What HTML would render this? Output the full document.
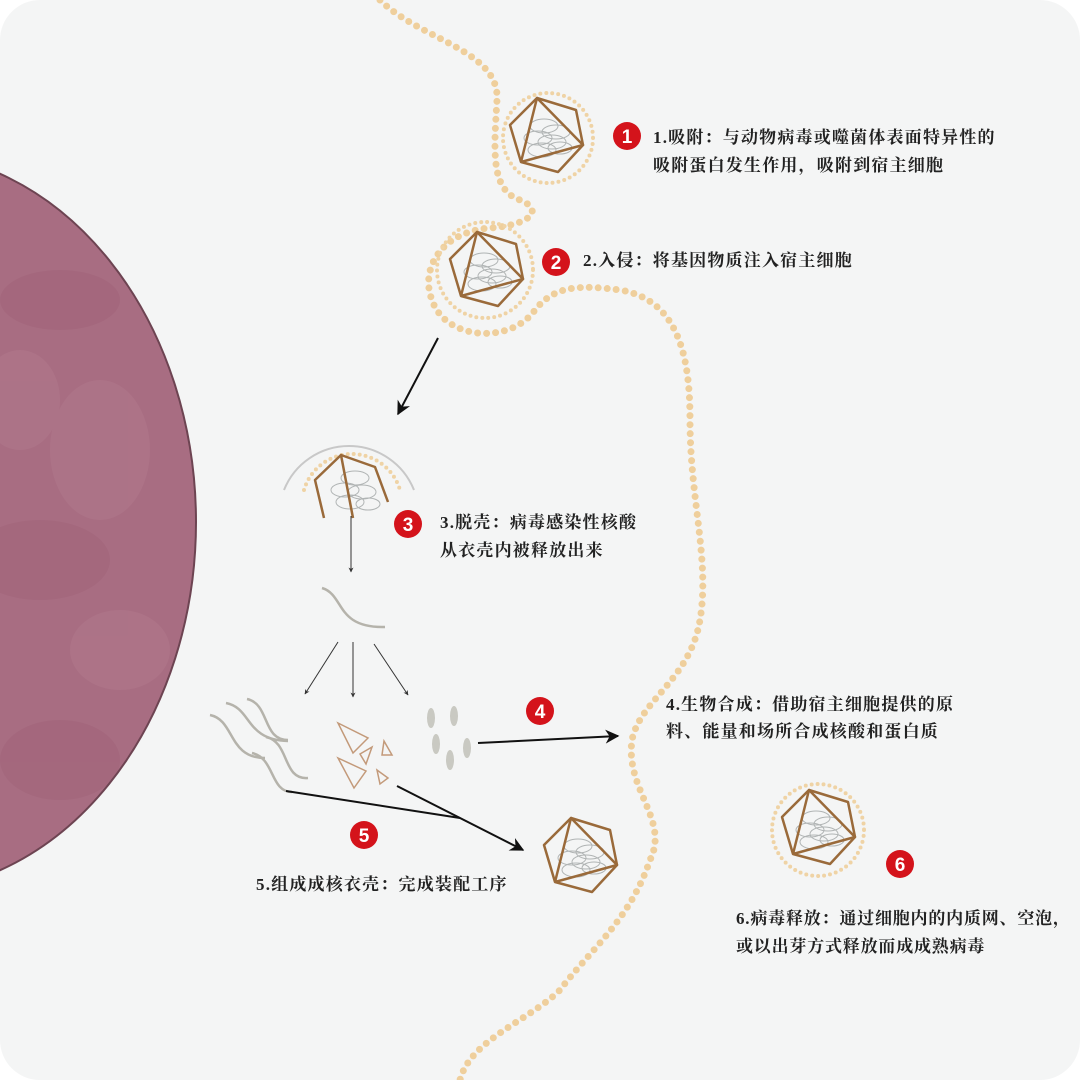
<!DOCTYPE html>
<html><head><meta charset="utf-8"><style>
html,body{margin:0;padding:0;background:#fff;}
svg{display:block;}
text{font-family:"Liberation Serif","Noto Serif CJK SC",serif;font-weight:bold;fill:#222;font-size:17px;letter-spacing:1.2px;}
.t6{letter-spacing:0.8px;}
.n{font-family:"Liberation Sans",sans-serif;fill:#fff;font-size:19px;font-weight:bold;text-anchor:middle;letter-spacing:0;}
</style></head><body>
<svg width="1080" height="1080" viewBox="0 0 1080 1080" xmlns="http://www.w3.org/2000/svg">
<defs>
<clipPath id="pg"><rect x="0" y="0" width="1080" height="1080" rx="40"/></clipPath>
<clipPath id="cell"><ellipse cx="-100" cy="522" rx="296" ry="370"/></clipPath>
<g id="vir">
 <g fill="none" stroke="#b0b4b4" stroke-width="1">
  <ellipse cx="-4" cy="-12" rx="14" ry="7"/><ellipse cx="8" cy="-6" rx="14" ry="7"/>
  <ellipse cx="-10" cy="0" rx="14" ry="7"/><ellipse cx="4" cy="4" rx="14" ry="7"/>
  <ellipse cx="-6" cy="12" rx="14" ry="7"/><ellipse cx="12" cy="10" rx="12" ry="6"/>
 </g>
 <polygon points="-11,-40 28,-28 35,7 10,34 -27,24 -38,-13" fill="none" stroke="#9a6a3a" stroke-width="2.5" stroke-linejoin="round"/>
 <polyline points="-27,24 -11,-40 35,7 -27,24" fill="none" stroke="#9a6a3a" stroke-width="2.5" stroke-linejoin="round"/>
</g>
<marker id="ah" viewBox="0 0 10 10" refX="9" refY="5" markerWidth="7" markerHeight="7" orient="auto"><path d="M0,0L10,5L0,10L3,5z" fill="#111"/></marker>
<marker id="as" viewBox="0 0 10 10" refX="9" refY="5" markerWidth="5" markerHeight="5" orient="auto"><path d="M0,0L10,5L0,10L3,5z" fill="#333"/></marker>
</defs>
<g clip-path="url(#pg)">
<rect width="1080" height="1080" fill="#f4f5f5"/>
<ellipse cx="-100" cy="522" rx="296" ry="370" fill="#a86d82"/>
<g clip-path="url(#cell)" opacity="0.28">
<ellipse cx="60" cy="300" rx="60" ry="30" fill="#9a5c72"/>
<ellipse cx="100" cy="450" rx="50" ry="70" fill="#b98597"/>
<ellipse cx="40" cy="560" rx="70" ry="40" fill="#9a5c72"/>
<ellipse cx="120" cy="650" rx="50" ry="40" fill="#b98597"/>
<ellipse cx="60" cy="760" rx="60" ry="40" fill="#9a5c72"/>
<ellipse cx="20" cy="400" rx="40" ry="50" fill="#b98597"/>
</g>
<ellipse cx="-100" cy="522" rx="296" ry="370" fill="none" stroke="#6d4452" stroke-width="2"/>

<path d="M380,0 C420,40 500,50 497,100 C494,150 490,190 520,200 C545,210 530,225 490,228 C440,232 420,270 432,300 C445,340 510,345 535,310 C555,285 580,285 620,290 C680,300 690,360 690,420 C690,500 710,560 700,620 C690,680 640,700 632,740 C625,790 670,820 650,860 C630,920 590,950 560,990 C530,1020 470,1040 460,1080" fill="none" stroke="#efcf9c" stroke-width="7" stroke-linecap="round" stroke-dasharray="0 9"/>

<circle cx="548" cy="138" r="45" fill="none" stroke="#efd3a5" stroke-width="4" stroke-linecap="round" stroke-dasharray="0 6"/>
<use href="#vir" x="548" y="138"/>
<circle cx="485" cy="270" r="48" fill="none" stroke="#efd3a5" stroke-width="4" stroke-linecap="round" stroke-dasharray="0 6"/>
<use href="#vir" x="488" y="272"/>
<circle cx="818" cy="830" r="46" fill="none" stroke="#efd3a5" stroke-width="4" stroke-linecap="round" stroke-dasharray="0 6"/>
<use href="#vir" x="820" y="830"/>
<use href="#vir" x="582" y="858"/>

<path d="M284,490 A70,70 0 0 1 414,490" fill="none" stroke="#c8c8c8" stroke-width="2"/>
<path d="M304,490 A50,50 0 0 1 400,490" fill="none" stroke="#efd3a5" stroke-width="4" stroke-linecap="round" stroke-dasharray="0 6"/>
<g fill="none" stroke="#b0b4b4" stroke-width="1">
 <ellipse cx="355" cy="478" rx="14" ry="7"/><ellipse cx="345" cy="490" rx="14" ry="7"/>
 <ellipse cx="362" cy="492" rx="14" ry="7"/><ellipse cx="350" cy="502" rx="14" ry="7"/><ellipse cx="368" cy="504" rx="12" ry="6"/>
</g>
<polyline points="324,518 315,480 341,455 353,518" fill="none" stroke="#9a6a3a" stroke-width="2.5" stroke-linejoin="round"/>
<polyline points="341,455 375,467 388,502" fill="none" stroke="#9a6a3a" stroke-width="2.5" stroke-linejoin="round"/>

<line x1="351" y1="516" x2="351" y2="572" stroke="#333" stroke-width="1" marker-end="url(#as)"/>
<path d="M322,588 C345,595 335,628 385,627" fill="none" stroke="#b5b3ab" stroke-width="2.5"/>
<line x1="338" y1="642" x2="305" y2="694" stroke="#333" stroke-width="1" marker-end="url(#as)"/>
<line x1="353" y1="642" x2="353" y2="697" stroke="#333" stroke-width="1" marker-end="url(#as)"/>
<line x1="374" y1="644" x2="408" y2="695" stroke="#333" stroke-width="1" marker-end="url(#as)"/>

<g fill="none" stroke="#b5b3ab" stroke-width="2.5">
<path d="M210,715 C235,720 228,758 265,758"/>
<path d="M226,703 C252,708 245,740 288,741"/>
<path d="M247,699 C270,704 262,740 288,740"/>
<path d="M266,737 C290,742 282,780 308,778"/>
<path d="M252,753 C275,758 270,792 292,792"/>
</g>
<g fill="none" stroke="#c39a7a" stroke-width="1.5">
<polygon points="338,723 368,738 353,753"/>
<polygon points="338,758 366,771 354,788"/>
<polygon points="360,754 372,747 366,764"/>
<polygon points="384,741 392,755 382,755"/>
<polygon points="377,770 388,778 380,784"/>
</g>
<g fill="#c9c9c2">
<ellipse cx="431" cy="718" rx="4" ry="10"/><ellipse cx="454" cy="716" rx="4" ry="10"/>
<ellipse cx="436" cy="744" rx="4" ry="10"/><ellipse cx="467" cy="748" rx="4" ry="10"/>
<ellipse cx="450" cy="760" rx="4" ry="10"/>
</g>

<line x1="438" y1="338" x2="398" y2="414" stroke="#111" stroke-width="2" marker-end="url(#ah)"/>
<line x1="478" y1="743" x2="618" y2="736" stroke="#111" stroke-width="2" marker-end="url(#ah)"/>
<line x1="286" y1="791" x2="460" y2="818" stroke="#111" stroke-width="2"/>
<line x1="397" y1="786" x2="523" y2="850" stroke="#111" stroke-width="2" marker-end="url(#ah)"/>

<circle cx="627" cy="136" r="14" fill="#d4131b"/><text class="n" x="627" y="143">1</text>
<circle cx="556" cy="262" r="14" fill="#d4131b"/><text class="n" x="556" y="269">2</text>
<circle cx="408" cy="524" r="14" fill="#d4131b"/><text class="n" x="408" y="531">3</text>
<circle cx="540" cy="711" r="14" fill="#d4131b"/><text class="n" x="540" y="718">4</text>
<circle cx="364" cy="835" r="14" fill="#d4131b"/><text class="n" x="364" y="842">5</text>
<circle cx="900" cy="864" r="14" fill="#d4131b"/><text class="n" x="900" y="871">6</text>

<text x="653" y="143">1.吸附：与动物病毒或噬菌体表面特异性的</text>
<text x="653" y="171">吸附蛋白发生作用，吸附到宿主细胞</text>
<text x="583" y="266">2.入侵：将基因物质注入宿主细胞</text>
<text x="440" y="528">3.脱壳：病毒感染性核酸</text>
<text x="440" y="556">从衣壳内被释放出来</text>
<text x="666" y="710">4.生物合成：借助宿主细胞提供的原</text>
<text x="666" y="737">料、能量和场所合成核酸和蛋白质</text>
<text x="256" y="890">5.组成成核衣壳：完成装配工序</text>
<text class="t6" x="736" y="924">6.病毒释放：通过细胞内的内质网、空泡，</text>
<text class="t6" x="736" y="952">或以出芽方式释放而成成熟病毒</text>
</g>
</svg>
</body></html>
